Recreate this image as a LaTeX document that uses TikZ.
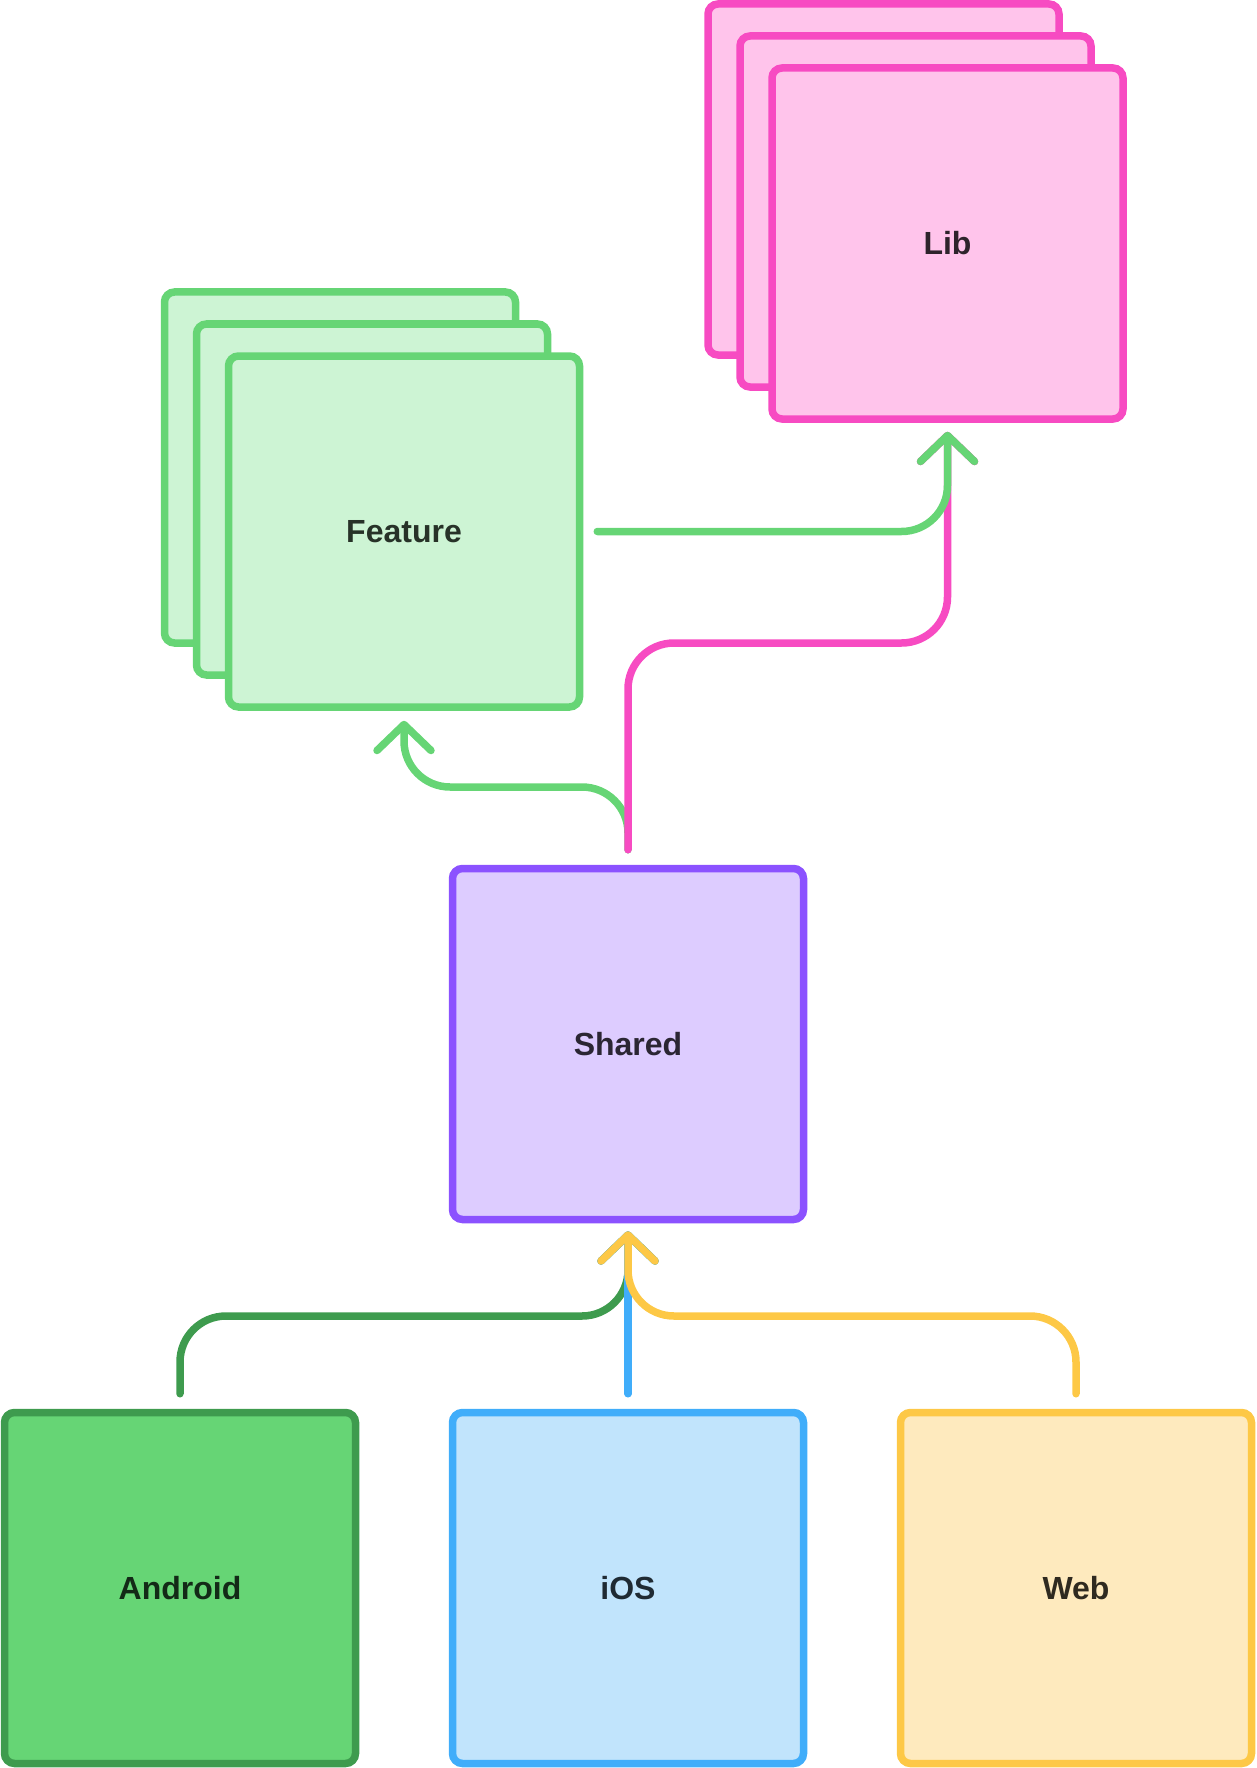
\documentclass[tikz,border=0pt]{standalone}
\usepackage{fontspec}
\setmainfont{Liberation Sans}
\usetikzlibrary{arrows.meta}
\definecolor{featfill}{HTML}{CDF4D4}
\definecolor{featline}{HTML}{66D575}
\definecolor{feattext}{HTML}{273228}
\definecolor{libfill}{HTML}{FFC4EB}
\definecolor{libline}{HTML}{F74BC2}
\definecolor{libtext}{HTML}{2E232B}
\definecolor{sharedfill}{HTML}{DDCCFF}
\definecolor{sharedline}{HTML}{8B52FF}
\definecolor{sharedtext}{HTML}{2B2633}
\definecolor{androidfill}{HTML}{66D575}
\definecolor{androidline}{HTML}{3E9B4E}
\definecolor{androidtext}{HTML}{132A17}
\definecolor{iosfill}{HTML}{C1E4FC}
\definecolor{iosline}{HTML}{40ADFA}
\definecolor{iostext}{HTML}{1F2A33}
\definecolor{webfill}{HTML}{FEEABE}
\definecolor{webline}{HTML}{FDC846}
\definecolor{webtext}{HTML}{2F2A20}
\begin{document}
\begin{tikzpicture}[x=1pt,y=-1pt,
        box/.style={draw,line width=7.5pt,rounded corners=10pt,minimum width=351pt,minimum height=351pt,font=\bfseries\fontsize{32}{38}\selectfont},
        link/.style={line width=7.5pt,line cap=round,rounded corners=46pt,-{Straight Barb[length=26pt,width=54pt,round]}}]
    \useasboundingbox (0,0) rectangle (1256,1768);
    % stacked feature boxes
    \node[box,draw=featline,fill=featfill] (feat3) at (340,467.5) {};
    \node[box,draw=featline,fill=featfill] (feat2) at (372,499.5) {};
    \node[box,draw=featline,fill=featfill,text=feattext] (feat) at (404,531.5) {Feature};
    % stacked lib boxes
    \node[box,draw=libline,fill=libfill] (lib3) at (883.5,179.5) {};
    \node[box,draw=libline,fill=libfill] (lib2) at (915.5,211.5) {};
    \node[box,draw=libline,fill=libfill,text=libtext] (lib) at (947.5,243.5) {Lib};
    \node[box,draw=sharedline,fill=sharedfill,text=sharedtext] (shared) at (628,1044) {Shared};
    \node[box,draw=androidline,fill=androidfill,text=androidtext] (android) at (180,1588) {Android};
    \node[box,draw=iosline,fill=iosfill,text=iostext] (ios) at (628,1588) {iOS};
    \node[box,draw=webline,fill=webfill,text=webtext] (web) at (1076,1588) {Web};
    \coordinate (libtip) at ([yshift=-9pt]lib.south);
    \coordinate (feattip) at ([yshift=-10pt]feat.south);
    \coordinate (shtop) at ([yshift=15pt]shared.north);
    \coordinate (shbot) at ([yshift=-8pt]shared.south);
    \coordinate (androidtop) at ([yshift=15pt]android.north);
    \coordinate (iostop) at ([yshift=15pt]ios.north);
    \coordinate (webtop) at ([yshift=15pt]web.north);
    % links
    \draw[link,featline] (shtop) -- (shtop |- 0,787) -| (feattip);
    \draw[link,libline] (shtop) -- (shtop |- 0,643) -| (libtip);
    \draw[link,featline] ([xshift=14pt]feat.east) -| (libtip);
    \draw[link,androidline] (androidtop) -- (androidtop |- 0,1316) -| (shbot);
    \draw[link,iosline] (iostop) -- (shbot);
    \draw[link,webline] (webtop) -- (webtop |- 0,1316) -| (shbot);
\end{tikzpicture}
\end{document}
